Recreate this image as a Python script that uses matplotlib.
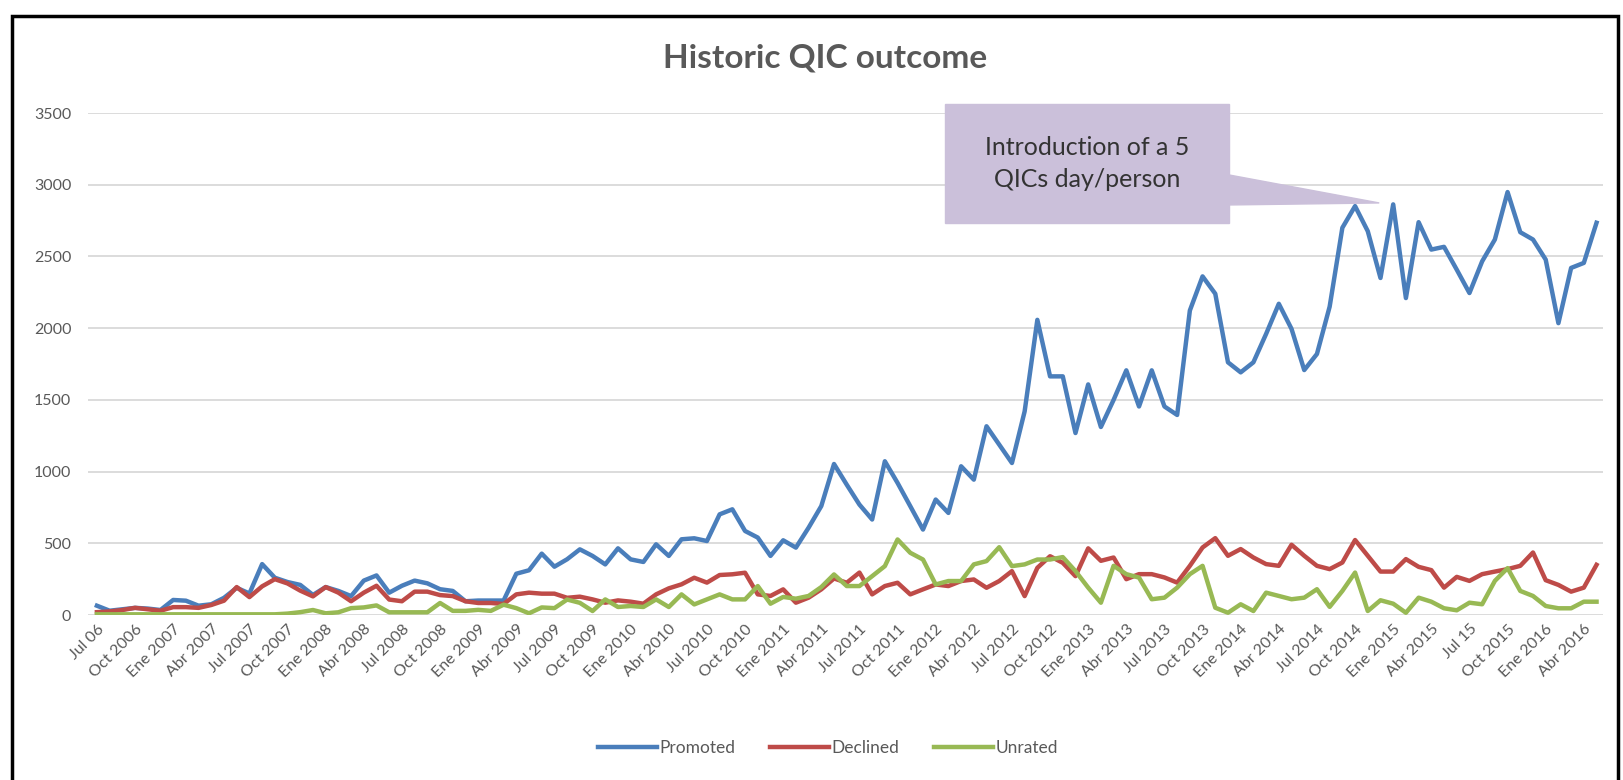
import numpy as np
import matplotlib.pyplot as plt
from matplotlib.patches import Rectangle

# monthly counts, Jul 2006 .. May 2016
promoted = [65, 30, 40, 50, 45, 35, 105, 100, 65, 75, 120, 190, 150, 355, 260, 230, 210, 140, 195, 168,
            132, 240, 276, 156, 204, 240, 221, 180, 168, 96, 101, 101, 101, 288, 312, 428, 337, 389, 458, 412,
            353, 465, 388, 370, 493, 412, 528, 535, 516, 702, 737, 586, 540, 412, 521, 470, 609, 760, 1053, 909,
            770, 666, 1072, 921, 759, 596, 805, 712, 1037, 944, 1316, 1188, 1060, 1420, 2058, 1664, 1664, 1269, 1608, 1311,
            1500, 1706, 1454, 1706, 1454, 1395, 2123, 2361, 2240, 1762, 1692, 1762, 1960, 2170, 1995, 1708, 1820, 2150, 2700, 2851,
            2676, 2350, 2863, 2210, 2739, 2548, 2567, 2408, 2245, 2466, 2618, 2949, 2669, 2618, 2478, 2035, 2420, 2455, 2735]
declined = [20, 25, 35, 50, 40, 30, 55, 55, 50, 70, 100, 195, 125, 200, 250, 220, 170, 130, 195, 156,
            96, 156, 204, 108, 96, 163, 163, 139, 132, 96, 84, 84, 77, 144, 156, 149, 149, 120, 128, 109,
            86, 102, 93, 79, 144, 186, 214, 260, 226, 279, 284, 295, 144, 133, 179, 86, 121, 179, 255, 225,
            296, 144, 202, 225, 144, 179, 213, 202, 237, 248, 190, 237, 306, 132, 329, 410, 364, 271, 465, 378,
            401, 250, 285, 285, 262, 226, 343, 471, 536, 413, 460, 401, 355, 343, 490, 413, 343, 320, 366, 523,
            413, 303, 303, 390, 336, 313, 191, 266, 238, 285, 303, 320, 343, 436, 243, 210, 163, 191, 350]
unrated = [5, 5, 5, 5, 5, 5, 5, 5, 5, 5, 5, 5, 5, 5, 5, 10, 20, 35, 12, 19,
           48, 53, 67, 19, 19, 19, 19, 84, 29, 29, 36, 29, 72, 48, 12, 53, 48, 108, 85, 28,
           109, 56, 63, 56, 109, 56, 144, 74, 109, 144, 109, 109, 202, 79, 126, 114, 133, 195, 283, 202,
           202, 271, 341, 527, 434, 387, 213, 237, 237, 353, 376, 473, 341, 353, 387, 387, 404, 306, 191, 86,
           343, 285, 261, 110, 121, 191, 285, 343, 51, 16, 75, 28, 156, 133, 110, 121, 180, 57, 168, 296,
           28, 103, 79, 16, 121, 93, 47, 33, 86, 75, 238, 327, 168, 133, 63, 47, 47, 93, 93]

tick_labels = ["Jul 06", "Oct 2006", "Ene 2007", "Abr 2007", "Jul 2007", "Oct 2007", "Ene 2008", "Abr 2008",
               "Jul 2008", "Oct 2008", "Ene 2009", "Abr 2009", "Jul 2009", "Oct 2009", "Ene 2010", "Abr 2010",
               "Jul 2010", "Oct 2010", "Ene 2011", "Abr 2011", "Jul 2011", "Oct 2011", "Ene 2012", "Abr 2012",
               "Jul 2012", "Oct 2012", "Ene 2013", "Abr 2013", "Jul 2013", "Oct 2013", "Ene 2014", "Abr 2014",
               "Jul 2014", "Oct 2014", "Ene 2015", "Abr 2015", "Jul 15", "Oct 2015", "Ene 2016", "Abr 2016"]

plt.rcParams['font.family'] = ['Lato', 'DejaVu Sans']
grey = '#595959'

x = np.arange(len(promoted))

fig = plt.figure(figsize=(16.24, 7.8), dpi=100)
ax = fig.add_axes([0.0542, 0.2115, 0.9328, 0.6436])

ax.plot(x, promoted, color='#4a7ebb', lw=3.2, label='Promoted')
ax.plot(x, declined, color='#be4b48', lw=3.2, label='Declined')
ax.plot(x, unrated, color='#98b954', lw=3.2, label='Unrated')

ax.set_xlim(-0.7, len(x) - 0.5)
ax.set_ylim(0, 3500)
ax.set_yticks(np.arange(0, 3501, 500))
ax.set_xticks(x[::3])
ax.set_xticklabels(tick_labels, rotation=45, ha='right', rotation_mode='anchor')
ax.tick_params(axis='both', length=0, colors=grey, labelsize=11.5)
ax.tick_params(axis='y', pad=12)
ax.tick_params(axis='x', pad=5)
ax.grid(axis='y', color='#d9d9d9', lw=1.3)
ax.set_axisbelow(True)
for s in ax.spines.values():
    s.set_visible(False)

fig.text(0.508, 0.925, 'Historic QIC outcome', ha='center', va='center',
         fontsize=24, fontweight='bold', color=grey)

fig.legend(loc='center', bbox_to_anchor=(0.51, 0.041), ncol=3, frameon=False,
           handlelength=3.4, handletextpad=0.15, columnspacing=2.0, fontsize=12.5,
           labelcolor=grey)

# callout box pointing at the peak after the 5 QICs/day rule
box_col = '#cbc0da'
bx0, bx1, by0, by1 = 66.7, 89.1, 2733, 3563
ax.fill([bx0, bx1, bx1, bx0], [by0, by0, by1, by1], color=box_col, clip_on=False, zorder=5)
ax.fill([bx1, 100.9, bx1], [3068, 2873, 2859], color=box_col, clip_on=False, zorder=5)
ax.text((bx0 + bx1) / 2, (by0 + by1) / 2, 'Introduction of a 5\nQICs day/person',
        ha='center', va='center', fontsize=18, color='#333333', linespacing=1.45, zorder=6)

fig.patches.append(Rectangle((0.0075, -0.02), 0.9885, 1.0, transform=fig.transFigure,
                             fill=False, edgecolor='black', lw=2.5))

fig.savefig('out.png', dpi=100)
